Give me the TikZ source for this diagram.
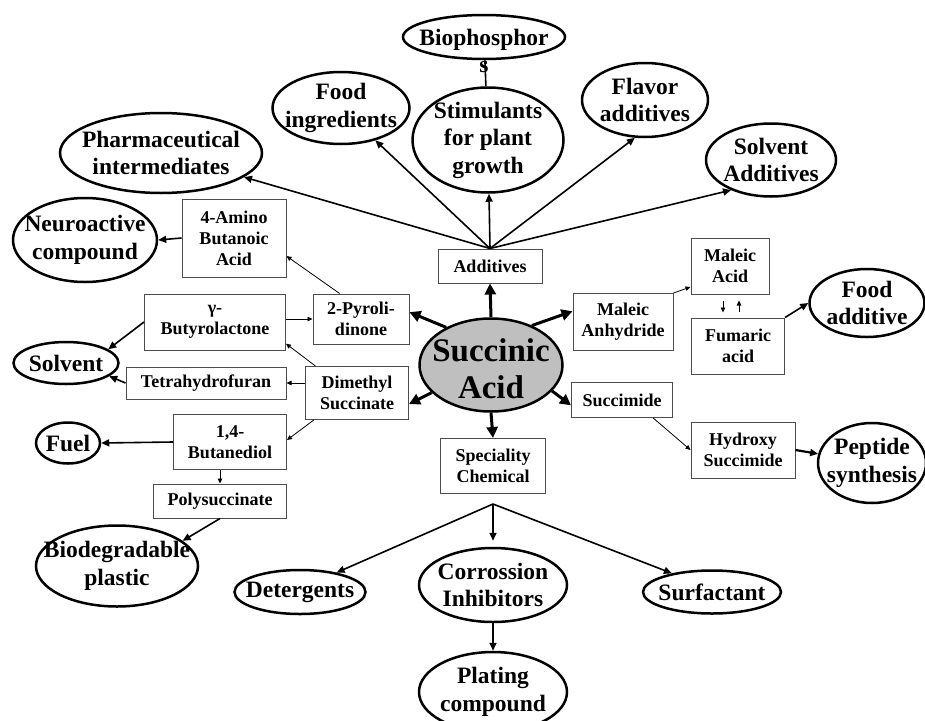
\documentclass[tikz,border=0pt]{standalone}
\usepackage{fontspec}
\setmainfont{Liberation Serif}
\usetikzlibrary{shapes.geometric,arrows.meta}
\begin{document}
\begin{tikzpicture}[x=1pt, y=-1pt,
  box/.style={draw=black!70, line width=1pt, inner sep=0pt, align=center, font=\fontsize{18}{21}\selectfont\bfseries},
  bubble/.style={ellipse, draw, line width=2.5pt, inner sep=0pt},
  bubbletext/.style={align=center, inner sep=0pt, font=\fontsize{23.5}{27.5}\selectfont\bfseries},
  bigarrow/.style={-{Triangle[length=11pt,width=11pt]}, line width=3pt},
  midarrow/.style={-{Triangle[length=8pt,width=7pt]}, line width=1.6pt},
  thinarrow/.style={-{Triangle[length=5pt,width=4.5pt]}, line width=0.8pt}]
\definecolor{acidfill}{HTML}{BFBFBF}
\useasboundingbox (0,0) rectangle (925,720);
\node[bubble, fill=acidfill, minimum width=143, minimum height=93, label={[align=center, inner sep=0pt, yshift=-4pt, font=\fontsize{33}{37}\selectfont\bfseries]center:Succinic\\Acid}] (sa) at (491,365) {};
\node[box, minimum width=104, minimum height=34] (add) at (490,266) {Additives};
\node[box, minimum width=105, minimum height=55] (spec) at (493,466) {Speciality\\Chemical};
\node[box, minimum width=104, minimum height=78] (amino) at (234,238) {4-Amino\\Butanoic\\Acid};
\node[box, minimum width=141, minimum height=56] (gbl) at (215,322) {γ-\\Butyrolactone};
\node[box, minimum width=96, minimum height=50] (pyro) at (361,319) {2-Pyroli-\\dinone};
\node[box, minimum width=160, minimum height=32] (thf) at (206,383) {Tetrahydrofuran};
\node[box, minimum width=103, minimum height=53] (dms) at (357,393) {Dimethyl\\Succinate};
\node[box, minimum width=113, minimum height=55] (bdo) at (230,442) {1,4-\\Butanediol};
\node[box, minimum width=133, minimum height=34] (poly) at (220,501) {Polysuccinate};
\node[box, minimum width=100, minimum height=57] (man) at (623,322) {Maleic\\Anhydride};
\node[box, minimum width=78, minimum height=56] (mac) at (730,266) {Maleic\\Acid};
\node[box, minimum width=93, minimum height=56] (fum) at (738,346) {Fumaric\\acid};
\node[box, minimum width=101, minimum height=35] (sim) at (622,400) {Succimide};
\node[box, minimum width=104, minimum height=56] (hsim) at (743,450) {Hydroxy\\Succimide};
\node[bubble, minimum width=162, minimum height=44, label={[bubbletext, yshift=-14pt]center:Biophosphor\\s}] (bio) at (484,37) {};
\node[bubble, minimum width=137, minimum height=72, label={[bubbletext]center:Food\\ingredients}] (food) at (341,108) {};
\node[bubble, minimum width=151, minimum height=105, label={[bubbletext]center:Stimulants\\for plant\\growth}] (stim) at (488,140) {};
\node[bubble, minimum width=126, minimum height=74, label={[bubbletext]center:Flavor\\additives}] (flav) at (645,100) {};
\node[bubble, minimum width=130, minimum height=73, label={[bubbletext]center:Solvent\\Additives}] (sadd) at (771,160) {};
\node[bubble, minimum width=202, minimum height=80, label={[bubbletext]center:Pharmaceutical\\intermediates}] (pharma) at (161,153) {};
\node[bubble, minimum width=144, minimum height=84, label={[bubbletext]center:Neuroactive\\compound}] (neuro) at (85,240) {};
\node[bubble, minimum width=105, minimum height=42, label={[bubbletext]center:Solvent}] (solv) at (66,363) {};
\node[bubble, minimum width=64, minimum height=41, label={[bubbletext]center:Fuel}] (fuel) at (68,443) {};
\node[bubble, minimum width=162, minimum height=81, label={[bubbletext]center:Biodegradable\\plastic}] (biod) at (117,566) {};
\node[bubble, minimum width=131, minimum height=44, label={[bubbletext]center:Detergents}] (det) at (300,592) {};
\node[bubble, minimum width=148, minimum height=74, label={[bubbletext]center:Corrossion\\Inhibitors}] (corr) at (493,585) {};
\node[bubble, minimum width=138, minimum height=43, label={[bubbletext]center:Surfactant}] (surf) at (712,592) {};
\node[bubble, minimum width=148, minimum height=80, label={[bubbletext]center:Plating\\compound}] (plat) at (493,692) {};
\node[bubble, minimum width=115, minimum height=68, label={[bubbletext]center:Food\\additive}] (fadd) at (867,303) {};
\node[bubble, minimum width=108, minimum height=80, label={[bubbletext]center:Peptide\\synthesis}] (pep) at (872,463) {};
\draw[bigarrow] (sa.north) -- (add.south);
\draw[bigarrow] (sa.140) -- (pyro.8);
\draw[bigarrow] (sa.44) -- (man.168);
\draw[bigarrow] (sa.205) -- (dms.348);
\draw[bigarrow] (sa.337) -- (sim.186);
\draw[bigarrow] (sa.south) -- (spec.north);
\draw[midarrow] (add.north) -- (stim);
\draw[midarrow] (add.north) -- (food);
\draw[midarrow] (add.north) -- (pharma);
\draw[midarrow] (add.north) -- (flav.-105);
\draw[midarrow] (add.north) -- (sadd.217);
\draw[line width=1.6pt] (stim) -- (bio);
\draw[midarrow] (amino.west) -- (neuro.east);
\draw[thinarrow] (pyro.130) -- (amino.-19);
\draw[thinarrow] (gbl.east |- pyro.west) -- (pyro.west);
\draw[midarrow] (gbl.west) -- (solv.18);
\draw[midarrow] (thf.west) -- (solv.-17);
\draw[thinarrow] (dms.west |- thf.east) -- (thf.east);
\draw[thinarrow] (dms.147) -- (gbl.-17);
\draw[thinarrow] (dms.212) -- (bdo.2);
\draw[midarrow] (bdo.west) -- (fuel.east);
\draw[thinarrow] (poly.north |- bdo.south) -- (poly.north);
\draw[midarrow] (poly.south) -- (biod.21);
\draw[thinarrow] (man.north east) -- (mac.208);
\draw[thinarrow, shorten <=6pt, shorten >=5pt] ([xshift=-7pt]mac.south) -- ([xshift=-7pt]mac.south |- fum.north);
\draw[thinarrow, shorten <=6pt, shorten >=6pt] ([xshift=9pt]mac.south |- fum.north) -- ([xshift=9pt]mac.south);
\draw[midarrow] (fum.north east) -- (fadd.west);
\draw[thinarrow] (sim.-30) -- (hsim.west);
\draw[midarrow, line width=2.2pt] (hsim.east) -- (pep);
\draw[midarrow] ([yshift=-10pt]spec.south) -- (det.28);
\draw[midarrow, shorten >=6pt] ([yshift=-10pt]spec.south) -- (corr.north);
\draw[midarrow] ([yshift=-10pt]spec.south) -- (surf.155);
\draw[midarrow] (corr.south) -- (plat.north);
\end{tikzpicture}
\end{document}
